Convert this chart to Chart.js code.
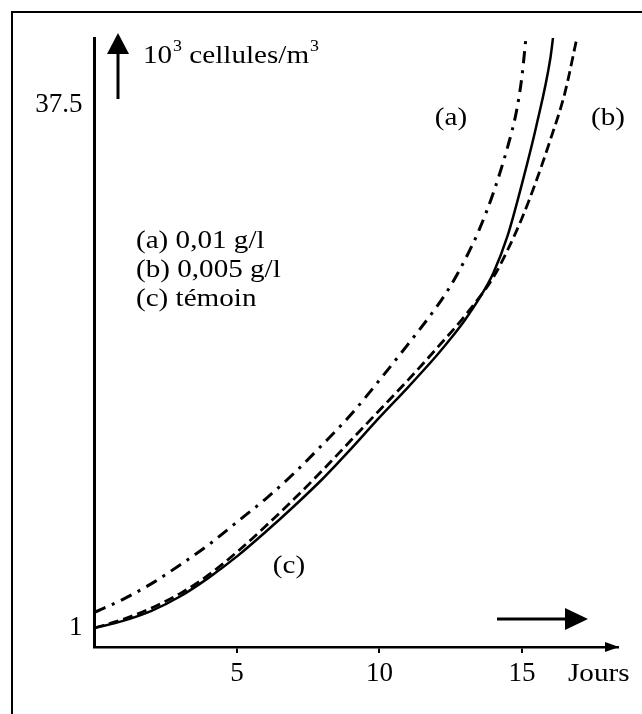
<!DOCTYPE html>
<html><head><meta charset="utf-8">
<script src="https://cdn.jsdelivr.net/npm/chart.js@4"></script>
<style>html,body{margin:0;padding:0;background:#fff;}#wrap{width:642px;height:714px;}</style>
</head><body><div id="wrap"><canvas id="c" width="642" height="714"></canvas></div>
<script>
// ---- data ----
const daysA   = [0,1,2,3,4,5,6,7,8,9,10,11,12,12.5,13,13.5,14,14.5,14.8,15,15.14];
const countsA = [2.1,3.0,4.1,5.4,6.8,8.4,10.0,11.8,13.8,15.9,18.3,20.8,23.4,24.9,26.7,28.8,31.4,34.6,37.0,39.5,42.2];
const daysB   = [0,1,2,3,4,5,6,7,8,9,10,11,12,13,14,14.5,15,15.5,16,16.5,16.93];
const countsB = [1.0,1.6,2.4,3.4,4.7,6.3,8.1,10.0,12.0,14.1,16.2,18.3,20.5,22.8,25.5,27.4,29.6,32.2,35.1,38.3,42.2];
const daysC   = [0,1,2,3,4,5,6,7,8,9,10,11,12,12.5,13,13.5,14,14.5,15,15.5,16,16.09];
const countsC = [1.0,1.5,2.2,3.2,4.5,6.0,7.7,9.5,11.4,13.5,15.7,17.8,20.0,21.2,22.5,24.0,25.8,28.4,32.0,36.0,40.8,42.2];
const xTicks = [5,10,15];
const yTicks = [1,37.5];
const seriesNames = ['(a) 0,01 g/l','(b) 0,005 g/l','(c) témoin'];
const curveTags = ['(a)','(b)','(c)'];
const xTitle = 'Jours';
const yTitleBase = '10', yTitleSup = '3', yTitleMid = ' cellules/m', yTitleSup2 = '3';

const FONT = '"Liberation Serif", "Times New Roman", serif';
const SX = 1.12;
const pts = (xs, ys) => xs.map((x, i) => ({x, y: ys[i]}));

function txt(ctx, s, x, y, size, align) {
  ctx.save();
  ctx.font = size + 'px ' + FONT;
  ctx.textBaseline = 'middle';
  ctx.fillStyle = '#000';
  ctx.translate(x, y);
  ctx.scale(SX, 1);
  ctx.textAlign = align || 'left';
  ctx.fillText(s, 0, 0);
  ctx.restore();
}
function tri(ctx, a, b, c) {
  ctx.beginPath(); ctx.moveTo(a[0], a[1]); ctx.lineTo(b[0], b[1]); ctx.lineTo(c[0], c[1]); ctx.closePath(); ctx.fill();
}

const deco = {
  id: 'deco',
  afterDraw(chart) {
    const ctx = chart.ctx;
    const ca = chart.chartArea;
    ctx.save();
    ctx.strokeStyle = '#000'; ctx.fillStyle = '#000';
    // frame (top & left)
    ctx.lineWidth = 2;
    ctx.beginPath(); ctx.moveTo(12, 714); ctx.lineTo(12, 12); ctx.lineTo(642, 12); ctx.stroke();
    // x axis arrowhead
    tri(ctx, [ca.right + 1, ca.bottom], [ca.right - 13, ca.bottom - 5], [ca.right - 13, ca.bottom + 5]);
    // y title arrow
    ctx.lineWidth = 3;
    ctx.beginPath(); ctx.moveTo(118, 99); ctx.lineTo(118, 50); ctx.stroke();
    tri(ctx, [118, 33], [107, 54], [129, 54]);
    // y title text with superscripts
    ctx.font = '26px ' + FONT;
    let x = 143;
    txt(ctx, yTitleBase, x, 56, 26); x += ctx.measureText(yTitleBase).width * SX + 1;
    ctx.font = '16px ' + FONT;
    txt(ctx, yTitleSup, x, 47, 16); x += ctx.measureText(yTitleSup).width * SX;
    ctx.font = '26px ' + FONT;
    txt(ctx, yTitleMid, x, 56, 26); x += ctx.measureText(yTitleMid).width * SX + 1;
    txt(ctx, yTitleSup2, x, 47, 16);
    // x direction arrow
    ctx.lineWidth = 3;
    ctx.beginPath(); ctx.moveTo(497, 619); ctx.lineTo(570, 619); ctx.stroke();
    tri(ctx, [588, 619], [565, 608], [565, 630]);
    // x title
    txt(ctx, xTitle, 568, 674, 26, 'left');
    // curve tags
    txt(ctx, curveTags[0], 451, 118, 26, 'center');
    txt(ctx, curveTags[1], 608, 118, 26, 'center');
    txt(ctx, curveTags[2], 289, 566, 26, 'center');
    // legend text
    txt(ctx, seriesNames[0], 136, 241, 26, 'left');
    txt(ctx, seriesNames[1], 136, 270, 26, 'left');
    txt(ctx, seriesNames[2], 136, 299, 26, 'left');
    ctx.restore();
  }
};

new Chart(document.getElementById('c'), {
  type: 'line',
  data: {
    datasets: [
      {label: seriesNames[0], data: pts(daysA, countsA), borderColor: '#000', borderWidth: 3, borderDash: [12, 7, 3, 7], pointRadius: 0, fill: false, cubicInterpolationMode: 'monotone'},
      {label: seriesNames[1], data: pts(daysB, countsB), borderColor: '#000', borderWidth: 2.8, borderDash: [10, 5], pointRadius: 0, fill: false, cubicInterpolationMode: 'monotone'},
      {label: seriesNames[2], data: pts(daysC, countsC), borderColor: '#000', borderWidth: 2.5, pointRadius: 0, fill: false, cubicInterpolationMode: 'monotone'}
    ]
  },
  options: {
    responsive: false,
    animation: false,
    devicePixelRatio: 1,
    layout: {padding: {left: 0, right: 24, top: 38, bottom: 17}},
    plugins: {legend: {display: false}, tooltip: {enabled: false}},
    scales: {
      x: {
        type: 'linear', min: 0, max: 18.37,
        afterBuildTicks: (a) => { a.ticks = xTicks.map(v => ({value: v})); },
        afterFit: (s) => { s.height = 50; },
        border: {display: true, color: '#000', width: 2.5},
        grid: {display: true, drawOnChartArea: false, drawTicks: true, tickLength: 6, color: '#000', lineWidth: 2},
        ticks: {color: '#000', font: {family: 'Liberation Serif', size: 27}, padding: 5, maxRotation: 0, autoSkip: false}
      },
      y: {
        type: 'linear', min: -0.326, max: 42.18,
        afterBuildTicks: (a) => { a.ticks = yTicks.map(v => ({value: v})); },
        afterFit: (s) => { s.width = 94.5; },
        border: {display: true, color: '#000', width: 3},
        grid: {display: false, drawTicks: false},
        ticks: {color: '#000', font: {family: 'Liberation Serif', size: 27}, padding: 12, autoSkip: false}
      }
    }
  },
  plugins: [deco]
});
</script>
</body></html>
